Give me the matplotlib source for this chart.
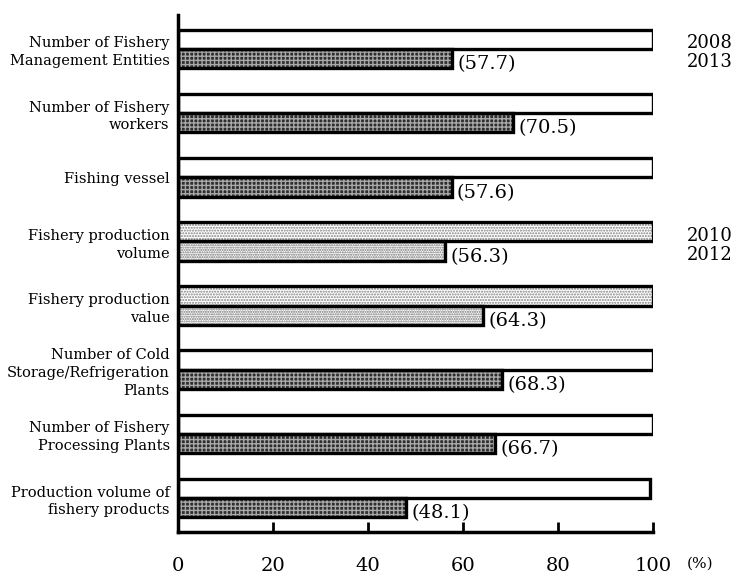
import matplotlib
matplotlib.use('Agg')
import matplotlib.pyplot as plt
import numpy as np

categories = [
    'Number of Fishery\nManagement Entities',
    'Number of Fishery\nworkers',
    'Fishing vessel',
    'Fishery production\nvolume',
    'Fishery production\nvalue',
    'Number of Cold\nStorage/Refrigeration\nPlants',
    'Number of Fishery\nProcessing Plants',
    'Production volume of\nfishery products',
]
base_values = [100, 100, 100, 100, 100, 100, 100, 99.4]
recent_values = [57.7, 70.5, 57.6, 56.3, 64.3, 68.3, 66.7, 48.1]
# production volume / value rows compare 2010 with 2012, the rest 2008 with 2013
dotted_rows = [3, 4]
year_labels = {0: ('2008', '2013'), 3: ('2010', '2012')}
x_ticks = [0, 20, 40, 60, 80, 100]

plt.rcParams['font.family'] = 'DejaVu Serif'
plt.rcParams['hatch.linewidth'] = 1.0

fig = plt.figure(figsize=(7.36, 5.74), dpi=100)
ax = fig.add_axes([178 / 736, 1 - 532 / 574, 475 / 736, 517 / 574])

bar_h = 0.3
y = np.arange(len(categories))
for i in y:
    top = i - bar_h / 2
    bottom = i + bar_h / 2
    if i in dotted_rows:
        ax.barh(top, base_values[i], height=bar_h, color='white',
                hatch='......', edgecolor='#808080', linewidth=0)
        ax.barh(bottom, recent_values[i], height=bar_h, color='white',
                hatch='.......', edgecolor='#707070', linewidth=0)
    else:
        ax.barh(top, base_values[i], height=bar_h, color='white', linewidth=0)
        ax.barh(bottom, recent_values[i], height=bar_h, color='#2e2e2e',
                hatch='++++', edgecolor='#a8a8a8', linewidth=0)
    # outlines drawn on top so the hatch colour does not leak into the border
    ax.barh(top, base_values[i], height=bar_h, fill=False,
            edgecolor='black', linewidth=2.4)
    ax.barh(bottom, recent_values[i], height=bar_h, fill=False,
            edgecolor='black', linewidth=2.4)
    ax.text(recent_values[i] + 1.1, bottom + 0.09, '({:.1f})'.format(recent_values[i]),
            ha='left', va='center', fontsize=14)

for i, (first, second) in year_labels.items():
    ax.text(112, i - 0.09, first, ha='center', va='center', fontsize=13, clip_on=False)
    ax.text(112, i + 0.21, second, ha='center', va='center', fontsize=13, clip_on=False)

ax.set_xlim(0, 100)
ax.set_ylim(len(categories) - 1 + 0.53, -0.53)
ax.set_yticks(y)
ax.set_yticklabels(categories, fontsize=10.5, linespacing=1.35, ha='right')
ax.tick_params(axis='y', length=0, pad=6)
ax.set_xticks(x_ticks)
ax.set_xticklabels([str(t) for t in x_ticks], fontsize=14)
ax.tick_params(axis='x', direction='in', length=7, width=2, pad=18)
ax.text(110, 7 + 0.53 + 0.5, '(%)', ha='center', va='center', fontsize=11, clip_on=False)

ax.spines['top'].set_visible(False)
ax.spines['right'].set_visible(False)
ax.spines['left'].set_linewidth(2.5)
ax.spines['bottom'].set_linewidth(2.5)

fig.savefig('out.png', dpi=100)
